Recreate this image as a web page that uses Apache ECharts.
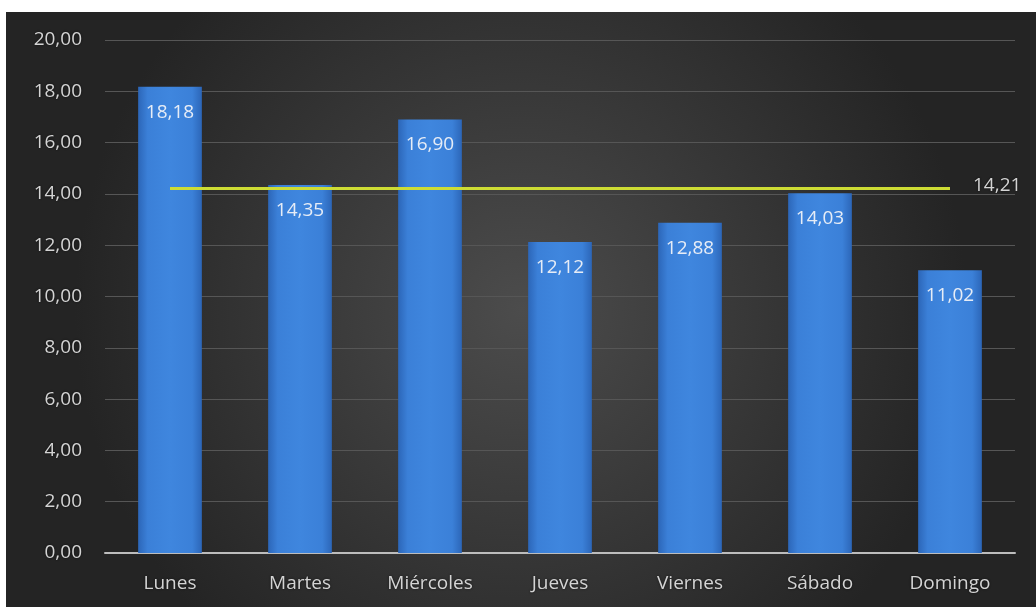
<!DOCTYPE html>
<html>
<head>
<meta charset="utf-8">
<script src="https://cdn.jsdelivr.net/npm/echarts@6/dist/echarts.min.js"></script>
<style>
html,body{margin:0;padding:0;background:#fff;}
#c{width:1036px;height:607px;}
</style>
</head>
<body>
<div id="c"></div>
<script>
const categories = ['Lunes','Martes','Miércoles','Jueves','Viernes','Sábado','Domingo'];
const values = [18.18, 14.35, 16.90, 12.12, 12.88, 14.03, 11.02];
const averageValues = [14.21, 14.21, 14.21, 14.21, 14.21, 14.21, 14.21];
const yTicks = {min: 0, max: 20, interval: 2};

const fmt = v => Number(v).toFixed(2).replace('.', ',');
const font = '"Open Sans", "Liberation Sans", sans-serif';
const shadow = {textShadowColor: 'rgba(0,0,0,0.6)', textShadowBlur: 3};

const chart = echarts.init(document.getElementById('c'));
chart.setOption({
  backgroundColor: '#ffffff',
  animation: false,
  graphic: [{
    type: 'rect',
    z: -10,
    silent: true,
    shape: {x: 6, y: 12, width: 1030, height: 595},
    style: {
      fill: new echarts.graphic.RadialGradient(0.5, 0.5, 0.75, [
        {offset: 0, color: '#4c4c4c'},
        {offset: 1, color: '#242424'}
      ])
    }
  }],
  grid: {left: 105, right: 21, top: 40, bottom: 54, containLabel: false},
  xAxis: {
    type: 'category',
    data: categories,
    axisLine: {lineStyle: {color: '#bdbdbd', width: 2}},
    axisTick: {show: false},
    axisLabel: Object.assign({color: '#d4d4d4', fontSize: 19, fontFamily: font, margin: 21}, shadow)
  },
  yAxis: {
    type: 'value',
    min: yTicks.min, max: yTicks.max, interval: yTicks.interval,
    axisLine: {show: false},
    axisTick: {show: false},
    splitLine: {lineStyle: {color: '#565656', width: 1}},
    axisLabel: Object.assign({color: '#d4d4d4', fontSize: 19, fontFamily: font, margin: 23,
      formatter: v => fmt(v)}, shadow)
  },
  series: [{
    type: 'bar',
    data: values,
    barWidth: '49%',
    itemStyle: {
      color: new echarts.graphic.LinearGradient(0, 0, 1, 0, [
        {offset: 0, color: '#2c66b8'},
        {offset: 0.15, color: '#3b80d8'},
        {offset: 0.5, color: '#3f86de'},
        {offset: 0.85, color: '#3b80d8'},
        {offset: 1, color: '#2c66b8'}
      ])
    },
    label: {
      show: true,
      position: 'insideTop',
      distance: 16,
      color: '#e6ecf6',
      fontSize: 19,
      fontFamily: font,
      formatter: p => fmt(p.value)
    },
    z: 2
  }, {
    type: 'line',
    data: averageValues,
    symbol: 'none',
    lineStyle: {color: '#cddc34', width: 3},
    z: 3,
    endLabel: Object.assign({
      show: true,
      distance: 23,
      color: '#d4d4d4',
      fontSize: 19,
      fontFamily: font,
      offset: [0, -3],
      formatter: p => fmt(p.value)
    }, shadow)
  }]
});
</script>
</body>
</html>
